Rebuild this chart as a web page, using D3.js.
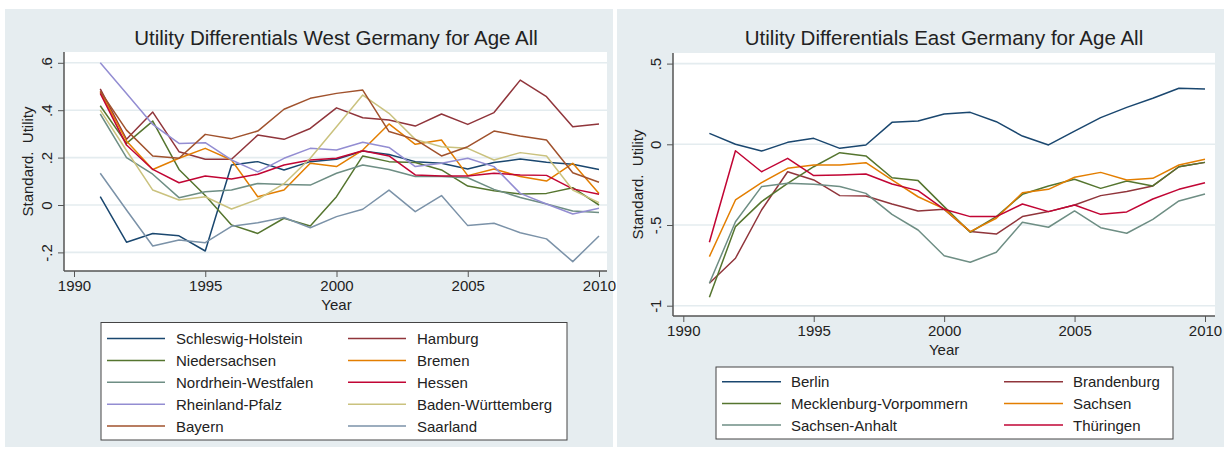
<html>
<head>
<meta charset="utf-8"/>
<style>
  body { margin: 0; background: #fff; }
  text { font-family: Arial, "Liberation Sans", sans-serif; fill: #222; }
</style>
</head>
<body>
<svg width="1229" height="450"></svg>
<script src="https://d3js.org/d3.v7.min.js"></script>
<script>
// ---- data ----
var years = [1991, 1992, 1993, 1994, 1995, 1996, 1997, 1998, 1999, 2000,
             2001, 2002, 2003, 2004, 2005, 2006, 2007, 2008, 2009, 2010];

// West Germany
var schleswigHolstein = [0.035, -0.157, -0.12, -0.13, -0.194, 0.169, 0.183, 0.148, 0.183, 0.193, 0.228, 0.213, 0.183, 0.176, 0.152, 0.179, 0.194, 0.18, 0.172, 0.15];
var hamburg           = [0.49, 0.277, 0.392, 0.225, 0.193, 0.193, 0.295, 0.277, 0.323, 0.41, 0.368, 0.359, 0.333, 0.384, 0.34, 0.39, 0.527, 0.457, 0.33, 0.342];
var niedersachsen     = [0.419, 0.26, 0.354, 0.15, 0.04, -0.084, -0.12, -0.056, -0.089, 0.035, 0.207, 0.183, 0.179, 0.148, 0.08, 0.06, 0.046, 0.049, 0.073, 0.0];
var bremen            = [0.478, 0.27, 0.15, 0.197, 0.239, 0.19, 0.035, 0.063, 0.176, 0.162, 0.232, 0.342, 0.256, 0.274, 0.124, 0.152, 0.12, 0.101, 0.176, 0.049];
var nrw               = [0.384, 0.2, 0.13, 0.031, 0.056, 0.063, 0.091, 0.087, 0.084, 0.134, 0.169, 0.15, 0.12, 0.12, 0.115, 0.066, 0.032, 0.004, -0.025, -0.032];
var hessen            = [0.471, 0.253, 0.15, 0.094, 0.122, 0.11, 0.13, 0.169, 0.19, 0.197, 0.229, 0.207, 0.127, 0.122, 0.122, 0.134, 0.127, 0.125, 0.068, 0.045];
var rheinlandPfalz    = [0.6, 0.47, 0.34, 0.26, 0.263, 0.19, 0.14, 0.197, 0.239, 0.232, 0.265, 0.243, 0.162, 0.176, 0.197, 0.162, 0.049, 0.004, -0.038, -0.014];
var badenWuerttemberg = [0.4, 0.23, 0.063, 0.021, 0.035, -0.017, 0.024, 0.09, 0.197, 0.33, 0.464, 0.387, 0.277, 0.246, 0.239, 0.19, 0.221, 0.207, 0.063, 0.01];
var bayern            = [0.48, 0.316, 0.207, 0.197, 0.298, 0.28, 0.312, 0.404, 0.45, 0.471, 0.485, 0.31, 0.277, 0.207, 0.246, 0.312, 0.291, 0.274, 0.136, 0.096];
var saarland          = [0.134, -0.021, -0.173, -0.148, -0.159, -0.09, -0.075, -0.053, -0.096, -0.049, -0.018, 0.063, -0.028, 0.04, -0.087, -0.077, -0.117, -0.143, -0.239, -0.131];

// East Germany
var berlin        = [0.068, 0.0, -0.042, 0.012, 0.037, -0.025, -0.004, 0.136, 0.144, 0.188, 0.198, 0.14, 0.051, -0.004, 0.082, 0.165, 0.229, 0.285, 0.347, 0.343];
var brandenburg   = [-0.861, -0.706, -0.407, -0.17, -0.221, -0.318, -0.32, -0.37, -0.413, -0.403, -0.541, -0.556, -0.448, -0.417, -0.376, -0.318, -0.293, -0.258, -0.139, -0.112];
var mecklenburgVP = [-0.948, -0.51, -0.355, -0.242, -0.139, -0.052, -0.072, -0.207, -0.225, -0.386, -0.545, -0.448, -0.31, -0.258, -0.217, -0.273, -0.227, -0.258, -0.139, -0.112];
var sachsen       = [-0.696, -0.345, -0.238, -0.149, -0.128, -0.128, -0.114, -0.221, -0.325, -0.4, -0.541, -0.458, -0.3, -0.279, -0.204, -0.174, -0.221, -0.211, -0.128, -0.093];
var sachsenAnhalt = [-0.861, -0.48, -0.262, -0.242, -0.248, -0.262, -0.304, -0.434, -0.531, -0.69, -0.731, -0.669, -0.483, -0.514, -0.413, -0.517, -0.551, -0.465, -0.351, -0.308];
var thueringen    = [-0.607, -0.04, -0.17, -0.087, -0.194, -0.19, -0.184, -0.246, -0.287, -0.403, -0.448, -0.448, -0.37, -0.417, -0.376, -0.434, -0.419, -0.339, -0.279, -0.238];

var westNames = ["Schleswig-Holstein", "Hamburg", "Niedersachsen", "Bremen", "Nordrhein-Westfalen",
                 "Hessen", "Rheinland-Pfalz", "Baden-Württemberg", "Bayern", "Saarland"];
var westValues = [schleswigHolstein, hamburg, niedersachsen, bremen, nrw,
                  hessen, rheinlandPfalz, badenWuerttemberg, bayern, saarland];
var eastNames = ["Berlin", "Brandenburg", "Mecklenburg-Vorpommern", "Sachsen", "Sachsen-Anhalt", "Thüringen"];
var eastValues = [berlin, brandenburg, mecklenburgVP, sachsen, sachsenAnhalt, thueringen];

var xTicks = [1990, 1995, 2000, 2005, 2010];
var westYTicks = [-0.2, 0, 0.2, 0.4, 0.6];
var eastYTicks = [-1, -0.5, 0, 0.5];

// stata s2color palette
var palette = ["#1a476f", "#90353b", "#55752f", "#e37e00", "#6e8e84",
               "#c10534", "#938dd2", "#cac27e", "#a0522d", "#7b92a8"];

var svg = d3.select("svg");

function fmt(v) {
  if (v === 0) return "0";
  return String(v).replace("0.", ".");
}

function drawPanel(o) {
  var g = svg.append("g");

  g.append("rect")
    .attr("x", o.panel[0]).attr("y", o.panel[1])
    .attr("width", o.panel[2]).attr("height", o.panel[3])
    .attr("fill", "#e6edf0");

  g.append("rect")
    .attr("x", o.plot[0]).attr("y", o.plot[1])
    .attr("width", o.plot[2] - o.plot[0]).attr("height", o.plot[3] - o.plot[1])
    .attr("fill", "#fff");

  var x = d3.scaleLinear().domain([1990, 2010]).range(o.xRange);
  var y = d3.scaleLinear().domain(o.yDomain).range(o.yRange);

  // grid
  g.selectAll(".grid").data(o.yTicks).enter().append("line")
    .attr("x1", o.plot[0]).attr("x2", o.plot[2])
    .attr("y1", function(d) { return y(d); })
    .attr("y2", function(d) { return y(d); })
    .attr("stroke", "#e4ecef")
    .attr("stroke-width", 1.6);

  // lines
  var line = d3.line()
    .x(function(d, i) { return x(years[i]); })
    .y(function(d) { return y(d); });

  g.selectAll(".series").data(o.values).enter().append("path")
    .attr("d", line)
    .attr("fill", "none")
    .attr("stroke", function(d, i) { return palette[i]; })
    .attr("stroke-width", 1.5)
    .attr("stroke-linejoin", "round");

  // axes
  var xAxis = g.append("g")
    .attr("transform", "translate(0," + o.plot[3] + ")")
    .call(d3.axisBottom(x).tickValues(xTicks).tickSize(6).tickFormat(d3.format("d")));
  xAxis.select(".domain").remove();
  xAxis.selectAll("line").attr("stroke", "#555");
  xAxis.selectAll("text").attr("font-size", 15).attr("y", 9).attr("dy", "0.71em");

  var yAxis = g.append("g")
    .attr("transform", "translate(" + o.plot[0] + ",0)")
    .call(d3.axisLeft(y).tickValues(o.yTicks).tickSize(6).tickFormat(fmt));
  yAxis.select(".domain").remove();
  yAxis.selectAll("line").attr("stroke", "#555");
  yAxis.selectAll("text")
    .attr("font-size", 15)
    .attr("x", 0).attr("dy", 0)
    .attr("text-anchor", "middle")
    .attr("transform", "translate(-12,0) rotate(-90)");

  g.append("line")
    .attr("x1", o.plot[0]).attr("x2", o.plot[2])
    .attr("y1", o.plot[3]).attr("y2", o.plot[3])
    .attr("stroke", "#555").attr("stroke-width", 1.5);
  g.append("line")
    .attr("x1", o.plot[0]).attr("x2", o.plot[0])
    .attr("y1", o.plot[1]).attr("y2", o.plot[3])
    .attr("stroke", "#555").attr("stroke-width", 1.5);

  // titles
  g.append("text")
    .attr("x", o.titleX).attr("y", 45)
    .attr("text-anchor", "middle")
    .attr("font-size", 20.5)
    .attr("fill", "#222")
    .text(o.title);

  g.append("text")
    .attr("x", x(2000)).attr("y", o.plot[3] + 39)
    .attr("text-anchor", "middle")
    .attr("font-size", 15)
    .text("Year");

  g.append("text")
    .attr("transform", "translate(" + o.yTitleX + "," + ((o.plot[1] + o.plot[3]) / 2) + ") rotate(-90)")
    .attr("text-anchor", "middle")
    .attr("font-size", 15)
    .attr("xml:space", "preserve")
    .text("Standard.  Utility");

  // legend
  var L = o.legend;
  g.append("rect")
    .attr("x", L.box[0]).attr("y", L.box[1])
    .attr("width", L.box[2]).attr("height", L.box[3])
    .attr("fill", "#fff")
    .attr("stroke", "#444").attr("stroke-width", 1);

  var item = g.selectAll(".leg").data(o.names).enter().append("g")
    .attr("transform", function(d, i) {
      return "translate(" + L.colX[i % 2] + "," + (L.rowY + Math.floor(i / 2) * L.rowStep) + ")";
    });
  item.append("line")
    .attr("x1", 0).attr("x2", L.lineLen)
    .attr("stroke", function(d, i) { return palette[i]; })
    .attr("stroke-width", 1.5);
  item.append("text")
    .attr("x", L.textGap).attr("dy", "0.36em")
    .attr("font-size", 15)
    .text(function(d) { return d; });
}

drawPanel({
  panel: [5, 9, 608, 438],
  plot: [64, 52, 607, 271],
  xRange: [74, 599],
  yDomain: [-0.2, 0.6], yRange: [252.4, 62.8],
  yTicks: westYTicks,
  values: westValues, names: westNames,
  title: "Utility Differentials West Germany for Age All",
  titleX: 336,
  yTitleX: 33,
  legend: { box: [101, 322.5, 466, 117.5], colX: [107, 348], rowY: 338.5, rowStep: 21.9, lineLen: 58, textGap: 69 }
});

drawPanel({
  panel: [617, 9, 607, 438],
  plot: [673, 53, 1215, 316],
  xRange: [683.3, 1205],
  yDomain: [-1, 0.5], yRange: [305.7, 63.6],
  yTicks: eastYTicks,
  values: eastValues, names: eastNames,
  title: "Utility Differentials East Germany for Age All",
  titleX: 944,
  yTitleX: 643,
  legend: { box: [716, 367, 457, 72], colX: [722, 1004], rowY: 381.7, rowStep: 21.7, lineLen: 59, textGap: 69 }
});
</script>
</body>
</html>
